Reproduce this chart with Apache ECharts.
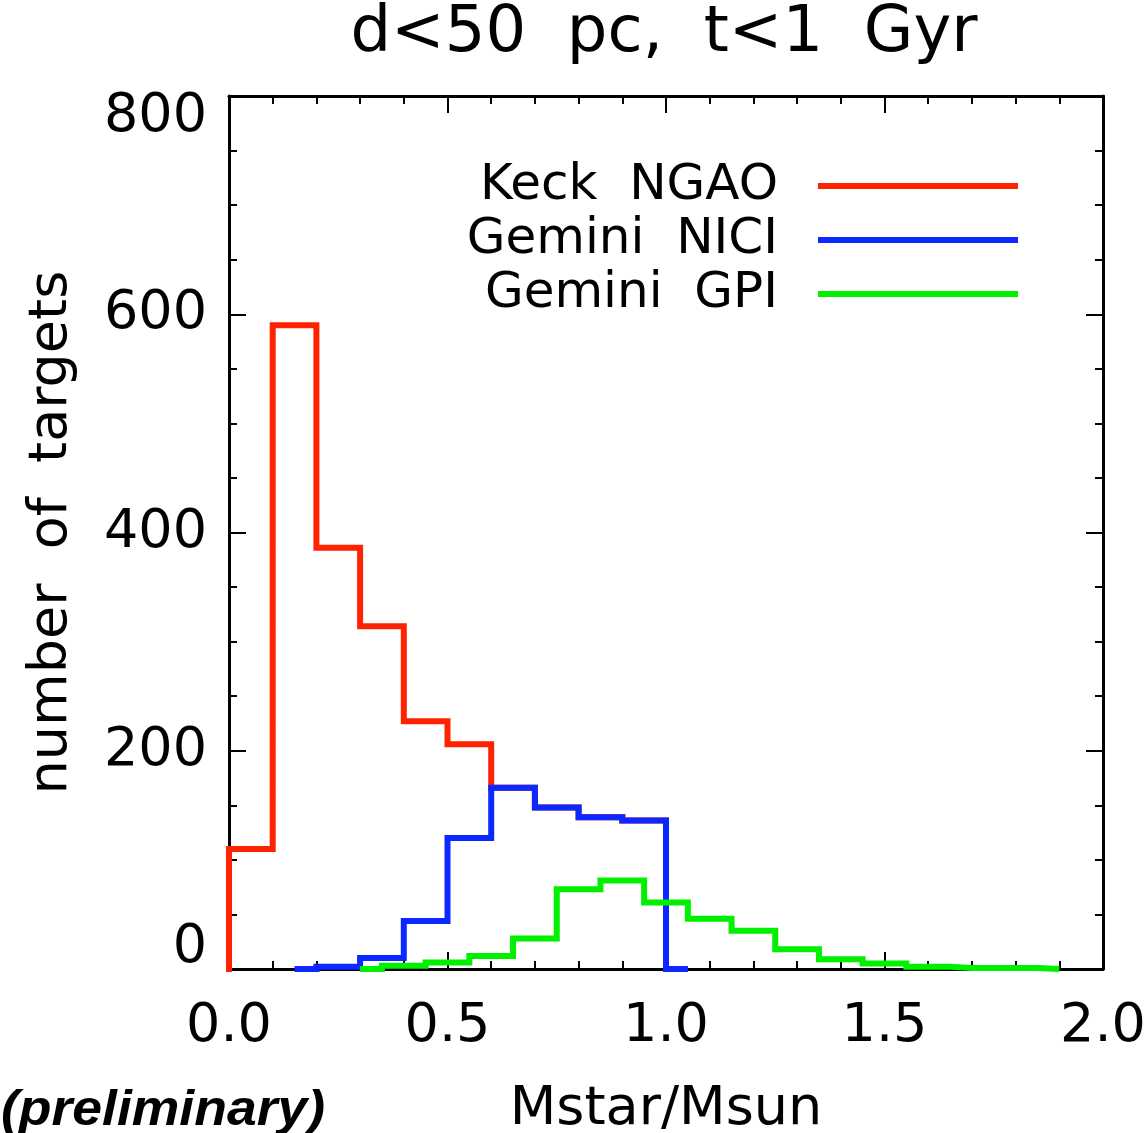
<!DOCTYPE html>
<html>
<head>
<meta charset="utf-8">
<script src="https://cdn.jsdelivr.net/npm/echarts@6/dist/echarts.min.js"></script>
<style>
html,body{margin:0;padding:0;background:#fff;}
#chart{width:1147px;height:1133px;}
</style>
</head>
<body>
<div id="chart"></div>
<script>
// ---- data (bin centres / counts, drawn as mid-point steps) ----
const titleText = 'd<50  pc,  t<1  Gyr';
const xAxisName = 'Mstar/Msun';
const yAxisName = 'number  of  targets';
const seriesNames = ['Keck  NGAO', 'Gemini  NICI', 'Gemini  GPI'];

const keckX = [-0.05, 0.05, 0.15, 0.25, 0.35, 0.45, 0.55, 0.65, 0.75, 0.85, 0.95, 1.05];
const keckY = [0, 110, 590, 386, 314, 227, 206, 166, 148, 139, 136, 0];

const niciX = [0.15, 0.25, 0.35, 0.45, 0.55, 0.65, 0.75, 0.85, 0.95, 1.05];
const niciY = [0, 2, 10, 44, 120, 166, 148, 139, 136, 0];

const gpiX = [0.3, 0.4, 0.5, 0.6, 0.7, 0.8, 0.9, 1.0, 1.1, 1.2, 1.3, 1.4, 1.5, 1.6, 1.7, 1.8, 1.9];
const gpiY = [0, 3, 6, 12, 28, 73, 81, 61, 46, 35, 18, 9, 5, 2, 1, 1, 0];

const xTicks = [0.0, 0.5, 1.0, 1.5, 2.0];
const yTicks = [0, 200, 400, 600, 800];

const colors = ['#ff2200', '#0a28ff', '#00f000'];

function pairs(xs, ys) { return xs.map((x, i) => [x, ys[i]]); }

const FONT = '"DejaVu Sans", sans-serif';

const chart = echarts.init(document.getElementById('chart'), null, {renderer: 'canvas'});

const axisCommon = {
  axisLine: {show: true, onZero: false, lineStyle: {color: '#000', width: 3}},
  axisTick: {show: true, inside: true, length: 17, lineStyle: {color: '#000', width: 2}},
  minorTick: {show: true, length: 8, lineStyle: {color: '#000', width: 2}},
  splitLine: {show: false},
  minorSplitLine: {show: false}
};

const option = {
  animation: false,
  backgroundColor: '#fff',
  title: {
    text: titleText,
    left: 664,
    textAlign: 'center',
    top: 2,
    padding: 0,
    textStyle: {fontFamily: FONT, fontSize: 64, fontWeight: 'normal', color: '#000'}
  },
  legend: {
    orient: 'vertical',
    align: 'right',
    right: 129,
    top: 159,
    itemGap: 0,
    itemWidth: 200,
    itemHeight: 6,
    icon: 'rect',
    padding: 0,
    data: seriesNames,
    textStyle: {fontFamily: FONT, fontSize: 50, color: '#000', lineHeight: 54, padding: [0, 35, 0, 0]}
  },
  grid: {left: 229, right: 44, top: 96, bottom: 164, containLabel: false, outerBoundsMode: 'none'},
  xAxis: [
    Object.assign({}, axisCommon, {
      type: 'value', position: 'bottom', min: 0, max: 2, interval: 0.5,
      minorTick: Object.assign({}, axisCommon.minorTick, {splitNumber: 5}),
      axisLabel: {
        show: true, margin: 31, fontFamily: FONT, fontSize: 54, color: '#000',
        formatter: v => xTicks.includes(+v.toFixed(1)) ? v.toFixed(1) : ''
      },
      name: xAxisName, nameLocation: 'middle', nameGap: 114,
      nameTextStyle: {fontFamily: FONT, fontSize: 54, color: '#000'}
    }),
    Object.assign({}, axisCommon, {
      type: 'value', position: 'top', min: 0, max: 2, interval: 0.5,
      minorTick: Object.assign({}, axisCommon.minorTick, {splitNumber: 5}),
      axisLabel: {show: false}
    })
  ],
  yAxis: [
    Object.assign({}, axisCommon, {
      type: 'value', position: 'left', min: 0, max: 800, interval: 200,
      minorTick: Object.assign({}, axisCommon.minorTick, {splitNumber: 4}),
      axisLabel: {
        show: true, margin: 22, fontFamily: FONT, fontSize: 54, lineHeight: 42, color: '#000',
        verticalAlignMinLabel: 'bottom', verticalAlignMaxLabel: 'top',
        formatter: v => yTicks.includes(v) ? String(v) : ''
      },
      name: yAxisName, nameLocation: 'middle', nameGap: 150,
      nameTextStyle: {fontFamily: FONT, fontSize: 54, color: '#000'}
    }),
    Object.assign({}, axisCommon, {
      type: 'value', position: 'right', min: 0, max: 800, interval: 200,
      minorTick: Object.assign({}, axisCommon.minorTick, {splitNumber: 4}),
      axisLabel: {show: false}
    })
  ],
  graphic: [{
    type: 'text', x: 1, y: 1111, scaleX: 1.07,
    style: {
      text: '(preliminary)',
      font: 'italic bold 50px "Liberation Sans", Arial, sans-serif',
      fill: '#000', align: 'left', verticalAlign: 'middle'
    }
  }],
  series: [
    {name: seriesNames[0], data: pairs(keckX, keckY), color: colors[0]},
    {name: seriesNames[1], data: pairs(niciX, niciY), color: colors[1]},
    {name: seriesNames[2], data: pairs(gpiX, gpiY), color: colors[2]}
  ].map(s => Object.assign({
    type: 'line', step: 'middle', symbol: 'none', showSymbol: false, xAxisIndex: 0, yAxisIndex: 0,
    clip: true,
    lineStyle: {width: 6, color: s.color, join: 'miter', cap: 'butt'},
    itemStyle: {color: s.color}
  }, s))
};

chart.setOption(option);
</script>
</body>
</html>
